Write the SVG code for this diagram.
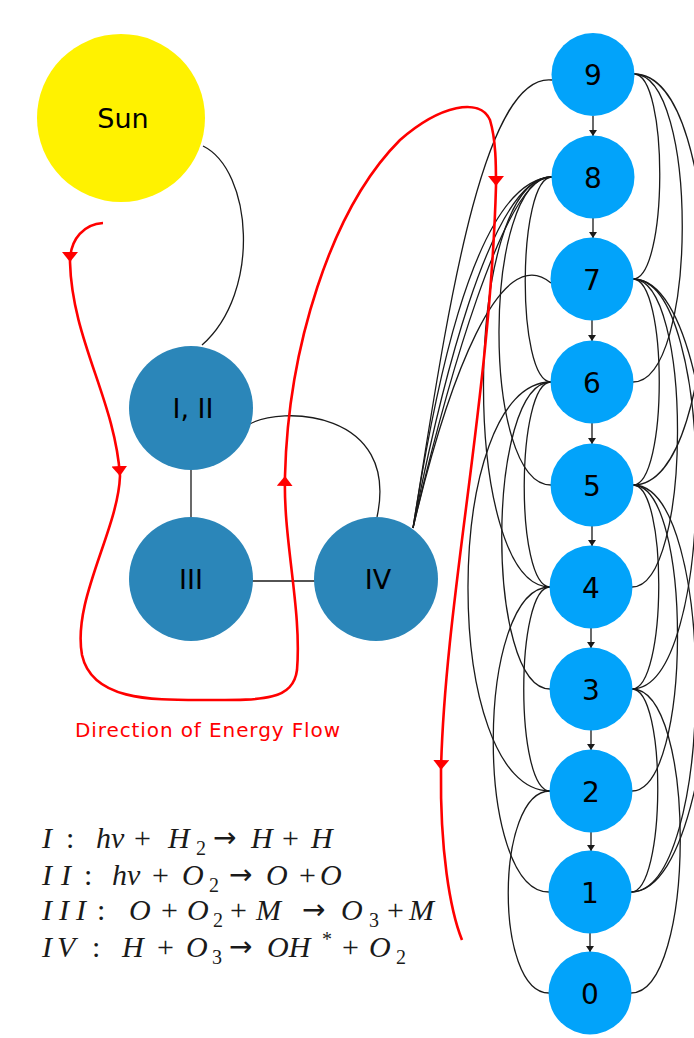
<svg xmlns="http://www.w3.org/2000/svg" width="694" height="1038" viewBox="0 0 694 1038">
<style>
.bg{fill:#ffffff}
.edge{fill:none;stroke:#1a1a1a;stroke-width:1.3}
.red{fill:none;stroke:#ff0000;stroke-width:2.6;marker-end:url(#ra)}
.redn{fill:none;stroke:#ff0000;stroke-width:2.6}
.big{fill:#2b86b9}
.dig{fill:#02a3fa}
.sun{fill:#fff200}
.lbl{font-family:"DejaVu Sans",sans-serif;font-size:27px;fill:#000;text-anchor:middle}
.dl{font-family:"DejaVu Sans",sans-serif;font-size:28px;fill:#000;text-anchor:middle}
.eq{font-family:"Liberation Serif",serif;font-size:30px;font-style:italic;fill:#1a1a1a}
.up{font-style:normal}
.ar{font-style:normal;font-family:"DejaVu Sans",sans-serif;font-size:28px}
.sub{font-style:normal;font-size:20px}
.note{font-family:"DejaVu Sans",sans-serif;font-size:20px;letter-spacing:0.9px;fill:#ff0000;text-anchor:middle}
</style>
<defs>
<marker id="ra" viewBox="0 0 10 16" refX="10" refY="8" markerWidth="10" markerHeight="16" markerUnits="userSpaceOnUse" orient="auto">
<path d="M0,0 L10,8 L0,16 z" fill="#ff0000"/>
</marker>
<marker id="ba" viewBox="0 0 6 8" refX="6" refY="4" markerWidth="6" markerHeight="8" markerUnits="userSpaceOnUse" orient="auto">
<path d="M0,0 L6,4 L0,8 z" fill="#1a1a1a"/>
</marker>
</defs>
<rect class="bg" x="0" y="0" width="694" height="1038"/>

<g id="connectors">
<path class="edge" d="M203 146 C252 170 262 292 202 345"/>
<path class="edge" d="M248 425 C280 405 400 410 377 517"/>
<path class="edge" d="M191 470 L191 518"/>
<path class="edge" d="M252 581 L316 581"/>
<path class="edge" d="M413 528 C445 330 480 72 552 80"/>
<path class="edge" d="M413 528 C430 420 470 180 552 177"/>
<path class="edge" d="M413 528 C438 400 490 175 552 177"/>
<path class="edge" d="M413 528 C445 390 505 172 552 177"/>
<path class="edge" d="M413 528 C448 380 500 240 551 283"/>
<path class="edge" d="M552 177 C517 177 516 382 551 382"/>
<path class="edge" d="M552 177 C482 177 481 485 551 485"/>
<path class="edge" d="M552 177 C462 177 460 587 550 587"/>
<path class="edge" d="M551 382 C516 382 515 587 550 587"/>
<path class="edge" d="M551 382 C486 382 485 689 550 689"/>
<path class="edge" d="M551 382 C441 382 440 791 550 791"/>
<path class="edge" d="M550 587 C515 587 515 791 550 791"/>
<path class="edge" d="M550 587 C475 587 474 892 549 892"/>
<path class="edge" d="M550 791 C495 791 494 993 549 993"/>
<path class="edge" d="M634 74 C669 74 668 279 633 279"/>
<path class="edge" d="M634 74 C699 74 698 382 633 382"/>
<path class="edge" d="M634 74 C729 74 728 485 633 485"/>
<path class="edge" d="M633 279 C668 279 668 485 633 485"/>
<path class="edge" d="M633 279 C693 279 692 587 632 587"/>
<path class="edge" d="M633 279 C718 279 717 689 632 689"/>
<path class="edge" d="M633 279 C743 279 741 892 631 892"/>
<path class="edge" d="M633 485 C668 485 667 689 632 689"/>
<path class="edge" d="M633 485 C693 485 692 791 632 791"/>
<path class="edge" d="M633 485 C718 485 716 892 631 892"/>
<path class="edge" d="M632 689 C667 689 666 892 631 892"/>
<path class="edge" d="M632 689 C697 689 696 993 631 993"/>
<path class="edge" marker-end="url(#ba)" d="M593 116 L593 136"/>
<path class="edge" marker-end="url(#ba)" d="M593 218 L593 238"/>
<path class="edge" marker-end="url(#ba)" d="M592 320 L592 341"/>
<path class="edge" marker-end="url(#ba)" d="M592 423 L592 444"/>
<path class="edge" marker-end="url(#ba)" d="M592 526 L592 546"/>
<path class="edge" marker-end="url(#ba)" d="M591 628 L591 648"/>
<path class="edge" marker-end="url(#ba)" d="M591 730 L591 750"/>
<path class="edge" marker-end="url(#ba)" d="M591 832 L591 851"/>
<path class="edge" marker-end="url(#ba)" d="M590 933 L590 952"/>
</g>

<g id="energy-flow">
<path class="red" d="M103 223 C85 224 70 238 70 262"/>
<path class="red" d="M70 262 C72 340 115 400 120 476"/>
<path class="red" d="M120 476 C118 530 72 600 82 655 C92 700 150 700 200 700 C260 700 293 702 297 670 C302 610 283 540 285 476"/>
<path class="red" d="M285 476 C288 350 330 210 400 140 C440 105 480 97 490 120 C496 140 496 165 496 186"/>
<path class="red" d="M496 186 C490 400 445 600 441 770"/>
<path class="redn" d="M441 770 C440 850 450 910 462 940"/>
<text class="note" x="208" y="737">Direction of Energy Flow</text>
</g>

<g id="sun"><circle class="sun" cx="121" cy="118" r="84"/><text class="lbl" x="123" y="128">Sun</text></g>
<g id="n-I-II"><circle class="big" cx="191" cy="408" r="62"/><text class="lbl" x="193" y="418">I, II</text></g>
<g id="n-III"><circle class="big" cx="191" cy="579" r="62"/><text class="lbl" x="191" y="589">III</text></g>
<g id="n-IV"><circle class="big" cx="376" cy="579" r="62"/><text class="lbl" x="378" y="589">IV</text></g>

<g id="d9"><circle class="dig" cx="593" cy="74.5" r="41.5"/><text class="dl" x="593" y="85">9</text></g>
<g id="d8"><circle class="dig" cx="593" cy="177" r="41.5"/><text class="dl" x="593" y="188">8</text></g>
<g id="d7"><circle class="dig" cx="592" cy="279" r="41.5"/><text class="dl" x="592" y="290">7</text></g>
<g id="d6"><circle class="dig" cx="592" cy="382" r="41.5"/><text class="dl" x="592" y="393">6</text></g>
<g id="d5"><circle class="dig" cx="592" cy="485" r="41.5"/><text class="dl" x="592" y="496">5</text></g>
<g id="d4"><circle class="dig" cx="591" cy="587" r="41.5"/><text class="dl" x="591" y="598">4</text></g>
<g id="d3"><circle class="dig" cx="591" cy="689" r="41.5"/><text class="dl" x="591" y="700">3</text></g>
<g id="d2"><circle class="dig" cx="591" cy="791" r="41.5"/><text class="dl" x="591" y="802">2</text></g>
<g id="d1"><circle class="dig" cx="590" cy="892" r="41.5"/><text class="dl" x="590" y="903">1</text></g>
<g id="d0"><circle class="dig" cx="590" cy="993" r="41.5"/><text class="dl" x="590" y="1004">0</text></g>

<g id="equations">
<text class="eq"><tspan x="42" y="848">I</tspan><tspan class="up" x="66" y="848">:</tspan><tspan x="96" y="848">hν</tspan><tspan class="up" x="134" y="848">+</tspan><tspan x="168" y="848">H</tspan><tspan class="sub" x="196" y="855">2</tspan><tspan class="ar" x="213" y="847">→</tspan><tspan x="251" y="848">H</tspan><tspan class="up" x="282" y="848">+</tspan><tspan x="311" y="848">H</tspan></text>
<text class="eq"><tspan x="42" y="885">I</tspan><tspan x="61" y="885">I</tspan><tspan class="up" x="84" y="885">:</tspan><tspan x="112" y="885">hν</tspan><tspan class="up" x="152" y="885">+</tspan><tspan x="182" y="885">O</tspan><tspan class="sub" x="209" y="892">2</tspan><tspan class="ar" x="229" y="884">→</tspan><tspan x="266" y="885">O</tspan><tspan class="up" x="299" y="885">+</tspan><tspan x="320" y="885">O</tspan></text>
<text class="eq"><tspan x="42" y="920">I</tspan><tspan x="59" y="920">I</tspan><tspan x="76" y="920">I</tspan><tspan class="up" x="97" y="920">:</tspan><tspan x="129" y="920">O</tspan><tspan class="up" x="161" y="920">+</tspan><tspan x="187" y="920">O</tspan><tspan class="sub" x="213" y="927">2</tspan><tspan class="up" x="230" y="920">+</tspan><tspan x="256" y="920">M</tspan><tspan class="ar" x="302" y="919">→</tspan><tspan x="341" y="920">O</tspan><tspan class="sub" x="369" y="927">3</tspan><tspan class="up" x="387" y="920">+</tspan><tspan x="409" y="920">M</tspan></text>
<text class="eq"><tspan x="42" y="957">I</tspan><tspan x="57" y="957">V</tspan><tspan class="up" x="92" y="957">:</tspan><tspan x="122" y="957">H</tspan><tspan class="up" x="157" y="957">+</tspan><tspan x="186" y="957">O</tspan><tspan class="sub" x="212" y="964">3</tspan><tspan class="ar" x="229" y="956">→</tspan><tspan x="267" y="957">OH</tspan><tspan class="sub" x="322" y="946">*</tspan><tspan class="up" x="342" y="957">+</tspan><tspan x="369" y="957">O</tspan><tspan class="sub" x="396" y="964">2</tspan></text>
</g>
</svg>
